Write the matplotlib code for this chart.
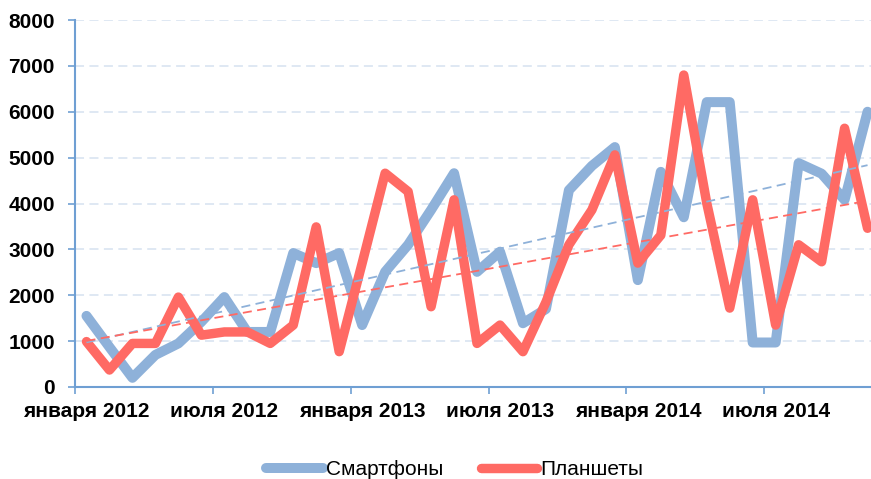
import numpy as np
import matplotlib.pyplot as plt
from matplotlib.ticker import FixedLocator, NullFormatter, FixedFormatter

# monthly values, January 2012 .. November 2014
smartphones = [1550, 870, 200, 700, 950, 1420, 1960, 1200, 1200, 2920, 2700, 2920,
               1350, 2510, 3100, 3860, 4660, 2510, 2950, 1390, 1700, 4290, 4820, 5230,
               2330, 4690, 3700, 6210, 6210, 970, 970, 4880, 4650, 4080, 6000]
tablets = [990, 370, 950, 950, 1960, 1130, 1200, 1200, 950, 1350, 3490, 770,
           2700, 4660, 4260, 1750, 4080, 950, 1350, 770, 1850, 3100, 3860, 5060,
           2700, 3310, 6800, 4010, 1720, 4080, 1350, 3100, 2730, 5640, 3460]
seriesNames = ['Смартфоны', 'Планшеты']
xLabels = ['января 2012', 'июля 2012', 'января 2013', 'июля 2013', 'января 2014', 'июля 2014']
yTicks = [0, 1000, 2000, 3000, 4000, 5000, 6000, 7000, 8000]

blue = '#8EB1D9'
red = '#FF6A64'
axisColor = '#6F9FD3'
gridColor = '#DCE6F2'
tickFont = {'family': 'Liberation Sans', 'weight': 'bold', 'size': 15}

months = np.arange(len(smartphones))

fig = plt.figure(figsize=(8.71, 4.79), dpi=100)
ax = fig.add_axes([75/871, 92/479, 796/871, 367/479])

ax.plot(months, smartphones, color=blue, lw=7.2, solid_joinstyle='round',
        solid_capstyle='round', label=seriesNames[0], zorder=3)
ax.plot(months, tablets, color=red, lw=6.8, solid_joinstyle='round',
        solid_capstyle='round', label=seriesNames[1], zorder=4)

# linear trend lines
for values, c in [(smartphones, blue), (tablets, red)]:
    k, b = np.polyfit(months, values, 1)
    ax.plot(months, k*months + b, color=c, lw=1.3, ls=(0, (5, 3)), zorder=5)

ax.set_xlim(-0.5, 34.15)
ax.set_ylim(0, 8000)

ax.yaxis.set_major_locator(FixedLocator(yTicks))
ax.grid(axis='y', color=gridColor, lw=1.3, ls=(0, (5, 3)))
ax.set_axisbelow(True)

# ticks at category boundaries, labels at category centres
ax.xaxis.set_major_locator(FixedLocator(np.arange(-0.5, 35, 6)))
ax.xaxis.set_major_formatter(NullFormatter())
ax.xaxis.set_minor_locator(FixedLocator(np.arange(0, 6*len(xLabels), 6)))
ax.xaxis.set_minor_formatter(FixedFormatter(xLabels))
ax.tick_params(axis='x', which='major', length=5, color=axisColor, width=1.2, direction='out')
ax.tick_params(axis='x', which='minor', length=0, pad=11)
ax.tick_params(axis='y', length=5, color=axisColor, width=1.2, direction='out', pad=9.5)
for lbl in ax.get_xticklabels(minor=True) + ax.get_yticklabels():
    lbl.set_fontproperties(tickFont)

for s in ['top', 'right']:
    ax.spines[s].set_visible(False)
for s in ['left', 'bottom']:
    ax.spines[s].set_color(axisColor)
    ax.spines[s].set_linewidth(1.5)

leg = fig.legend(loc='lower center', bbox_to_anchor=(0.522, -0.04), ncol=2, frameon=False,
                 prop={'family': ['Liberation Sans Narrow', 'Liberation Sans'], 'size': 15},
                 handlelength=2.7, handletextpad=0.15, columnspacing=1.8)

fig.savefig('out.png', dpi=100)
